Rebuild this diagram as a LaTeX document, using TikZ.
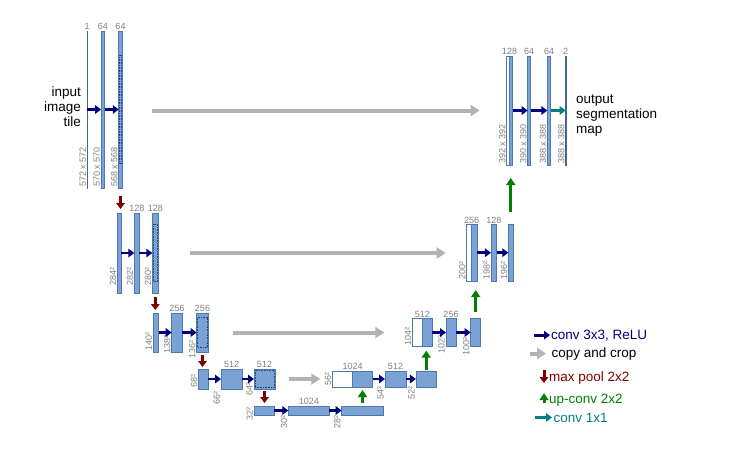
\documentclass[tikz,border=0pt]{standalone}
\usepackage{fontspec}
\setmainfont{Liberation Sans}
\usetikzlibrary{arrows.meta,calc}
\definecolor{barfill}{HTML}{7AA2D5}
\definecolor{barline}{HTML}{4D79B3}
\definecolor{cropline}{HTML}{23467F}
\definecolor{dimgray}{HTML}{7F7F7F}
\definecolor{convblue}{HTML}{00007F}
\definecolor{copygray}{HTML}{B3B3B3}
\definecolor{poolred}{HTML}{7F0000}
\definecolor{upgreen}{HTML}{007F00}
\definecolor{outteal}{HTML}{007F7F}
\tikzset{
	fmap/.style={draw=barline,fill=barfill,line width=.6pt,inner sep=0pt,outer sep=0pt},
	cmap/.style={fmap,fill=white},
	lmap/.style={fmap,fill=white,draw=cropline!85!white,minimum width=.3pt},
	crop/.style={cropline,densely dotted,line width=.6pt},
	chan/.style={text=dimgray,font=\fontsize{9}{10}\selectfont,inner sep=1pt},
	chantop/.style={chan,anchor=south},
	chanside/.style={chan,rotate=90,anchor=south west},
	bigtext/.style={font=\fontsize{13.5}{15}\selectfont,inner sep=0pt},
	conv/.style={convblue,line width=2.8pt,-{Triangle[length=6pt,width=8.5pt]}},
	copycrop/.style={copygray,line width=4pt,-{Triangle[length=9pt,width=11pt]}},
	pool/.style={poolred,line width=3pt,-{Triangle[length=6pt,width=8.5pt]}},
	upconv/.style={upgreen,line width=3pt,-{Triangle[length=7pt,width=9pt]}},
	conv1/.style={outteal,line width=2.8pt,-{Triangle[length=6pt,width=8.5pt]}},
}
\begin{document}
\begin{tikzpicture}[x=1pt,y=-1pt]
	\useasboundingbox (0,0) rectangle (755,452);
	\foreach \n/\x/\y/\w/\h in {
		a2/102.8/109.5/3.5/157,a3/120.5/109.5/3.5/157,
		b1/119.2/253/3.7/80,b2/136.8/253/5/80,b3/155.3/253/6/80,
		c1/155.8/332.5/5.5/39,c2/177/332.5/10.6/39,c3/202.5/332.5/11.6/39,
		d1/203.3/379/10/20,d2/231.7/379/21.3/20,d3/264.5/379/21/20,
		e1/264.2/410.5/20.3/9,e2/308.8/410.5/41/9,e3/362.5/410.5/41.6/9,
		f1/362.7/379/20/16,f2/395.5/379/21/16,f3/426.3/379/20.7/16,
		g1/427.3/332.5/10/28.4,g2/451/332.5/10/28.4,g3/475.7/332.5/10/28.4,
		h1/474.45/252.7/5.5/56.7,h2/493.8/252.7/5.7/56.7,h3/510.8/252.7/5/56.7,
		i1/511.1/110.5/3.2/109,i2/529.2/110.5/3/109,i3/549/110.5/3.4/109}
		\node[fmap,minimum width=\w pt,minimum height=\h pt] (\n) at (\x,\y) {};
	\foreach \n/\x/\y/\w/\h in {f0/342.5/379/20.4/16,g0/417.3/332.5/10/28.4,h0/469.2/252.7/5/56.7,i0/508.1/110.5/2.8/109}
		\node[cmap,minimum width=\w pt,minimum height=\h pt] (\n) at (\x,\y) {};
	\node[lmap,minimum height=157pt] (a1) at (87.2,109.5) {};
	\node[lmap,minimum height=109pt] (i4) at (565.7,110.5) {};
	\foreach \n/\f in {a3/.155,b3/.143,c3/.118,d3/.0625}
		\draw[crop] ([xshift=.9pt]$(\n.north west)!\f!(\n.south west)$) rectangle ([xshift=-.9pt]$(\n.south east)!\f!(\n.north east)$);
	\foreach \n/\t in {a1/1,a2/64,a3/64,b2/128,b3/128,c2/256,c3/256,d2/512,d3/512,e2/1024,f2/512,g2/256,h2/128,i2/64,i3/64,i4/2}
		\node[chantop] (\n-c) at (\n.north) {\t};
	\foreach \n/\t in {f0/1024,g0/512,h0/256,i0/128}
		\node[chantop] (\n-c) at (\n.north east) {\t};
	\foreach \n/\t/\d in {
		a1/572 x 572/0,a2/570 x 570/0,a3/568 x 568/0,
		b1/284²/6,b2/282²/6,b3/280²/6,
		c1/140²/0,c2/138²/-3,c3/136²/-8,
		d1/68²/0,d2/66²/-17,d3/64²/-8,
		e1/32²/-7,e2/30²/-15,e3/28²/-15,
		f0/56²/0,f2/54²/-14,f3/52²/-14,
		g0/104²/0,g2/102²/-8,g3/100²/-10,
		h0/200²/0,h2/198²/0,h3/196²/0,
		i0/392 x 392/0,i2/390 x 390/0,i3/388 x 388/0,i4/388 x 388/0}
		\node[chanside] (\n-s) at ([yshift=\d pt]\n.south west) {\t};
	\foreach \p/\q in {a1/a2,a2/a3,b1/b2,b2/b3,c1/c2,c2/c3,d1/d2,d2/d3,e1/e2,e2/e3,f1/f2,f2/f3,g1/g2,g2/g3,h1/h2,h2/h3,i1/i2,i2/i3}
		\draw[conv] (\p) -- (\q);
	\draw[conv1] (i3) -- (i4);
	\foreach \p/\q/\s/\e in {a3/b1/8/4,b3/c1/4/3,c3/d1/3/2,d3/e1/2/3}
		\draw[pool,shorten <=\s pt,shorten >=\e pt] (\p.south) -- (\p.south |- \q.north);
	\foreach \p/\q/\s/\e in {e3/f1/3/3,f3/g1/1/4,g3/h1/6/9,h3/i1/12/13}
		\draw[upconv,shorten <=\s pt,shorten >=\e pt] (\p.north) -- (\p.north |- \q.south);
	\draw[copycrop,shorten <=30pt,shorten >=27pt] (a3.east |- i0) -- (i0.west);
	\foreach \p/\q/\s/\e in {b3/h0/32/21,c3/g0/25/28,d3/f0/14/12}
		\draw[copycrop,shorten <=\s pt,shorten >=\e pt] (\p.east) -- (\p.east -| \q.west);
	\node[bigtext,align=right,anchor=east] (intxt) at (81,106.5) {input\\image\\tile};
	\node[bigtext,align=left,anchor=west] (outtxt) at (576,116) {output\\segmentation\\map};
	\node[bigtext,anchor=base west,text=convblue] (k1) at (551,339) {conv 3x3, ReLU};
	\node[bigtext,anchor=base west] (k2) at (551.5,357) {copy and crop};
	\node[bigtext,anchor=base west,text=poolred] (k3) at (549,381) {max pool 2x2};
	\node[bigtext,anchor=base west,text=upgreen] (k4) at (549,403) {up-conv 2x2};
	\node[bigtext,anchor=base west,text=outteal] (k5) at (553.5,422) {conv 1x1};
	\coordinate (k1a) at ([xshift=-17pt]k1.west);
	\coordinate (k2a) at ([xshift=-21.5pt]k2.west);
	\coordinate (k3a) at ([xshift=-5pt,yshift=7.5pt]k3.west);
	\coordinate (k3b) at ([xshift=-5pt,yshift=-5.5pt]k3.west);
	\coordinate (k4a) at ([xshift=-5pt,yshift=-3.5pt]k4.west);
	\coordinate (k4b) at ([xshift=-5pt,yshift=6.5pt]k4.west);
	\coordinate (k5a) at ([xshift=-18.5pt]k5.west);
	\draw[conv,shorten >=1pt] (k1a) -- (k1.west);
	\draw[copycrop,shorten >=5.5pt] (k2a) -- (k2.west);
	\draw[pool] (k3a) -- (k3b);
	\draw[upconv] (k4a) -- (k4b);
	\draw[conv1,shorten >=1.5pt] (k5a) -- (k5.west);
\end{tikzpicture}
\end{document}
